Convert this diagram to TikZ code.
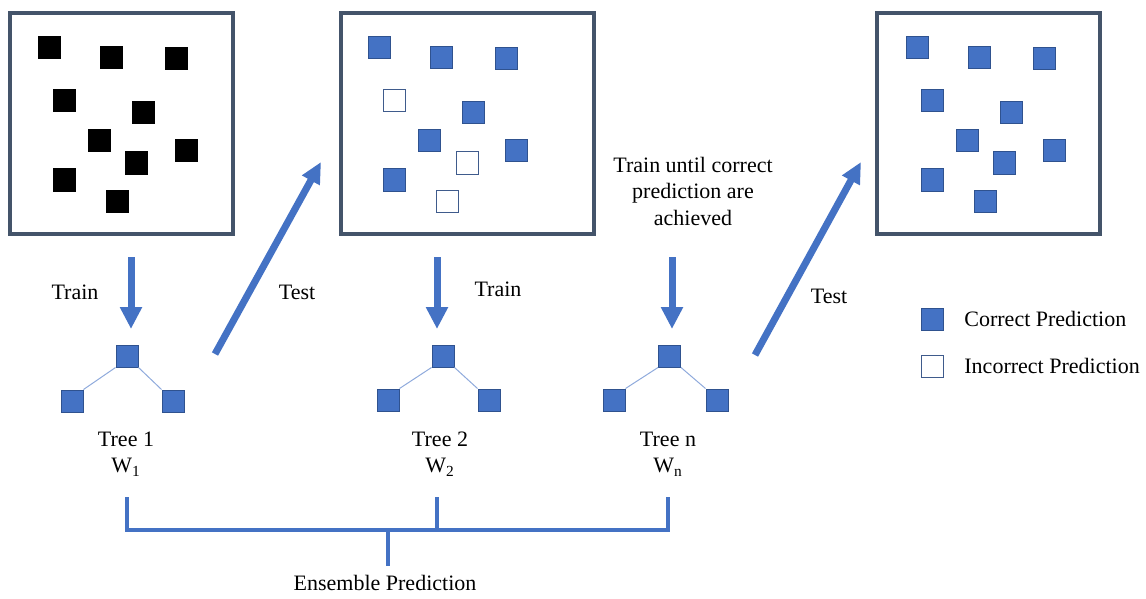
\documentclass[tikz,border=0pt]{standalone}
\usepackage{fontspec}
\setmainfont{Liberation Serif}
\newfontfamily\labelfont{Liberation Serif}
\usepackage{tikz}
\usetikzlibrary{arrows.meta}
\usetikzlibrary{calc}

\definecolor{predblue}{HTML}{4472C4}
\definecolor{edgeblue}{HTML}{2F528F}
\definecolor{framegray}{HTML}{44546A}
\definecolor{branchblue}{HTML}{8FAADC}

\begin{document}
\begin{tikzpicture}
		[x=0.5pt, y=-0.5pt,
			every node/.style={font=\labelfont\fontsize{11}{13.25}\selectfont},
			frame/.style={draw=framegray, line width=1.75pt, minimum height=110.5pt, inner sep=0pt},
			point/.style={rectangle, minimum size=11pt, inner sep=0pt, line width=0.5pt},
			sample/.style={point, fill=black, draw=black},
			correct/.style={point, fill=predblue, draw=edgeblue},
			incorrect/.style={point, fill=white, draw=edgeblue!80!gray},
			branch/.style={draw=branchblue, line width=0.5pt},
			flow/.style={draw=predblue, line width=3.5pt, -{Triangle[width=10.5pt, length=11pt]}},
			slant/.style={draw=predblue, line width=3.5pt, -{Triangle[width=9.5pt, length=10.5pt]}},
			bracket/.style={draw=predblue, line width=2.4pt}]
		\useasboundingbox (0,0) rectangle (1146,599);
		% the three sample boxes
		\node[frame, minimum width=111.5pt] (box1) at (121.5,123.5) {};
		\node[frame, minimum width=126.5pt] (box2) at (467.5,123.5) {};
		\node[frame, minimum width=111.5pt] (box3) at (988.5,123.5) {};
		% training data, all unlabelled
		\begin{scope}[shift={(10,13)}]
			\foreach \px/\py [count=\i] in {39/35, 101.5/45, 166/46, 54/88, 133/100, 89/128, 126/150, 176/138, 54/167, 107/188}
				\node[sample] (a\i) at (\px,\py) {};
		\end{scope}
		% test result of tree 1
		\begin{scope}[shift={(340,13)}]
			\foreach \px/\py/\kind [count=\i] in {39/35/correct, 101.5/45/correct, 166/46/correct, 54/88/incorrect, 133/100/correct, 89/128/correct, 127/150/incorrect, 176/138/correct, 54/167/correct, 107/188/incorrect}
				\node[\kind] (b\i) at (\px,\py) {};
		\end{scope}
		% test result of tree n
		\begin{scope}[shift={(877,13)}]
			\foreach \px/\py [count=\i] in {40/35, 102/45, 167/46, 55/88, 134/100, 90/128, 127/150, 177/138, 55/167, 108/188}
				\node[correct] (c\i) at (\px,\py) {};
		\end{scope}
		% the trees
		\node[correct] (t1) at (127,356) {};
		\node[correct] (t1l) at (72,401) {};
		\node[correct] (t1r) at (173,401) {};
		\node[correct] (t2) at (443,356) {};
		\node[correct] (t2l) at (388,400) {};
		\node[correct] (t2r) at (489,400) {};
		\node[correct] (tn) at (669.5,356) {};
		\node[correct] (tnl) at (614,400) {};
		\node[correct] (tnr) at (717,400) {};
		\draw[branch] (t1.south west) to (t1l.north east);
		\draw[branch] (t1.south east) to (t1r.north west);
		\draw[branch] (t2.south west) to (t2l.north east);
		\draw[branch] (t2.south east) to (t2r.north west);
		\draw[branch] (tn.south west) to (tnl.north east);
		\draw[branch] (tn.south east) to (tnr.north west);
		% tree labels
		\node[align=center] (w1) at (126,454) {Tree 1\\W\textsubscript{1}};
		\node[align=center] (w2) at (440,454) {Tree 2\\W\textsubscript{2}};
		\node[align=center] (wn) at (668,454) {Tree n\\W\textsubscript{n}};
		% train arrows
		\coordinate (s1) at (131,257);
		\coordinate (e1) at (131,329);
		\coordinate (s2) at (437,257);
		\coordinate (e2) at (437,329);
		\coordinate (sn) at (672,257);
		\coordinate (en) at (672,329);
		\draw[flow] (s1) to (e1);
		\draw[flow] (s2) to (e2);
		\draw[flow] (sn) to (en);
		\node (train1) at (75,292) {Train};
		\node (train2) at (498,289) {Train};
		\node[align=center] (until) at (693,191) {Train until correct\\prediction are\\achieved};
		% test arrows
		\coordinate (u1) at (215,354);
		\coordinate (v1) at (321,162);
		\coordinate (un) at (755,355);
		\coordinate (vn) at (861,162);
		\draw[slant] (u1) to (v1);
		\draw[slant] (un) to (vn);
		\node (test1) at (297,292) {Test};
		\node (testn) at (829,296) {Test};
		% legend
		\node[correct] (key1) at (932,319) {};
		\node[incorrect] (key2) at (932,366) {};
		\node[anchor=west, inner sep=0pt] (lab1) at (964,319) {Correct Prediction};
		\node[anchor=west, inner sep=0pt] (lab2) at (964,366) {Incorrect Prediction};
		% ensemble bracket
		\coordinate (k1) at (127,497);
		\coordinate (k2) at (437,497);
		\coordinate (kn) at (668,497);
		\coordinate (m) at (388,530);
		\coordinate (mm) at (388,566);
		\draw[bracket] (k1) to ($(k1)+(0,33)$) to ($(kn)+(0,33)$) to (kn);
		\draw[bracket] (k2) to ($(k2)+(0,33)$);
		\draw[bracket] (m) to (mm);
		\node (ens) at (385,583) {Ensemble Prediction};
\end{tikzpicture}
\end{document}
